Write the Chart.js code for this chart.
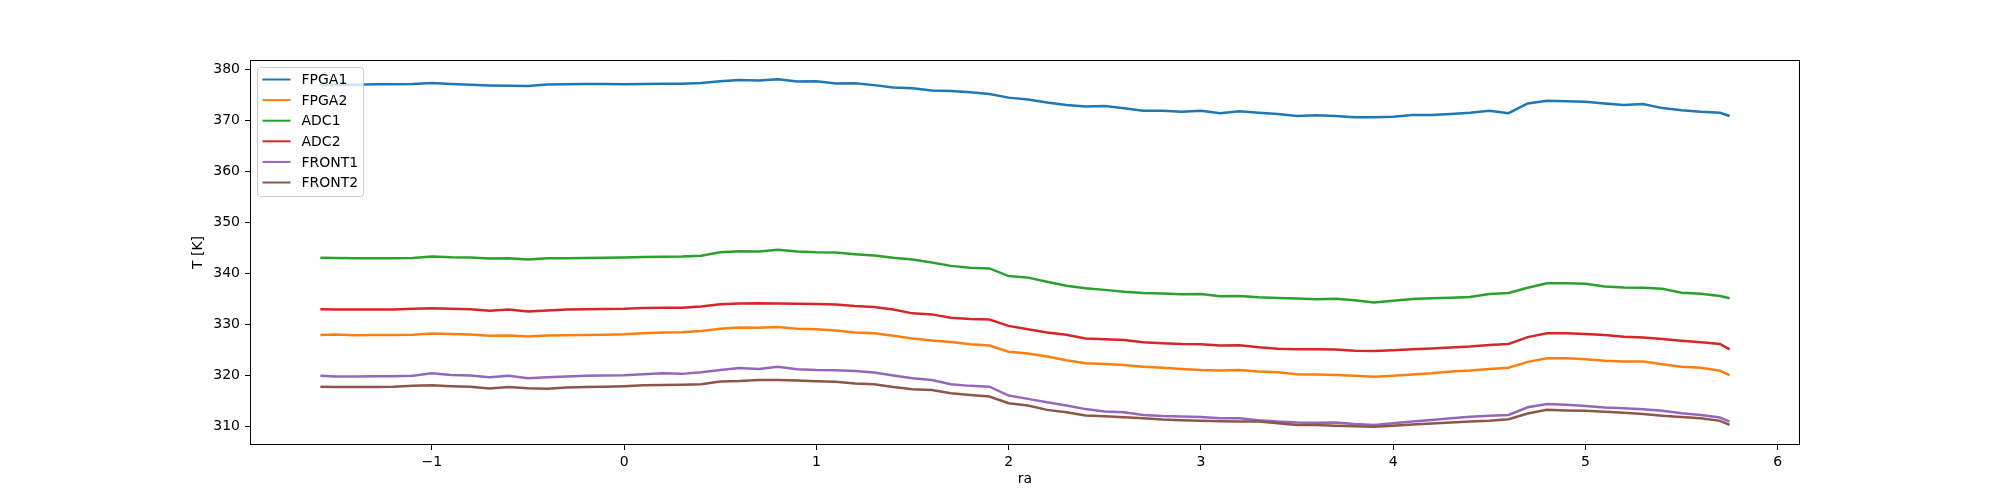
<!DOCTYPE html>
<html>
<head>
<meta charset="utf-8">
<title>T vs ra</title>
<script src="https://cdn.jsdelivr.net/npm/chart.js@4.4.1/dist/chart.umd.min.js"></script>
<style>
  html, body { margin: 0; padding: 0; background: #fff; }
</style>
</head>
<body>
<canvas id="chart" width="2000" height="500"></canvas>
<script>
const RA = [
  -1.58, -1.5, -1.4, -1.3, -1.2, -1.1, -1.0, -0.9, -0.8, -0.7, -0.6, -0.5, -0.4, -0.3, -0.2, -0.1,
  0.0, 0.1, 0.2, 0.3, 0.4, 0.5, 0.6, 0.7, 0.8, 0.9, 1.0, 1.1, 1.2, 1.3, 1.4, 1.5, 1.6, 1.7, 1.8, 1.9,
  2.0, 2.1, 2.2, 2.3, 2.4, 2.5, 2.6, 2.7, 2.8, 2.9, 3.0, 3.1, 3.2, 3.3, 3.4, 3.5, 3.6, 3.7, 3.8, 3.9,
  4.0, 4.1, 4.2, 4.3, 4.4, 4.5, 4.6, 4.7, 4.8, 4.9, 5.0, 5.1, 5.2, 5.3, 5.4, 5.5, 5.6, 5.7, 5.75
];

const FPGA1 = [
  376.9, 376.9, 376.95, 377.05, 377.05, 377.1, 377.3, 377.1, 376.95, 376.85, 376.8, 376.75, 377.0, 377.05, 377.1, 377.1,
  377.05, 377.1, 377.15, 377.15, 377.3, 377.65, 377.9, 377.8, 378.05, 377.6, 377.65, 377.2, 377.25, 376.9, 376.45, 376.3, 375.85, 375.75, 375.5, 375.15,
  374.45, 374.1, 373.5, 373.0, 372.7, 372.8, 372.35, 371.9, 371.9, 371.7, 371.9, 371.4, 371.8, 371.5, 371.25, 370.85, 371.0, 370.85, 370.6, 370.6,
  370.7, 371.05, 371.05, 371.25, 371.5, 371.9, 371.4, 373.3, 373.85, 373.75, 373.65, 373.3, 373.0, 373.2, 372.4, 372.0, 371.7, 371.5, 370.85
];

const FPGA2 = [
  327.95, 328.05, 327.9, 327.95, 327.95, 328.0, 328.25, 328.15, 328.05, 327.8, 327.85, 327.65, 327.85, 327.9, 327.95, 328.0,
  328.1, 328.3, 328.45, 328.5, 328.75, 329.2, 329.45, 329.4, 329.55, 329.2, 329.1, 328.85, 328.45, 328.3, 327.8, 327.3, 326.9, 326.6, 326.15, 325.9,
  324.7, 324.35, 323.75, 323.0, 322.45, 322.3, 322.1, 321.75, 321.55, 321.3, 321.1, 321.0, 321.1, 320.8, 320.65, 320.3, 320.25, 320.15, 320.0, 319.8,
  320.0, 320.25, 320.45, 320.8, 321.0, 321.3, 321.55, 322.7, 323.4, 323.4, 323.2, 322.9, 322.75, 322.75, 322.25, 321.75, 321.55, 320.95, 320.1
];

const ADC1 = [
  343.1, 343.05, 343.0, 343.0, 343.0, 343.05, 343.35, 343.2, 343.15, 342.95, 343.0, 342.75, 343.0, 343.0, 343.05, 343.1,
  343.15, 343.25, 343.3, 343.35, 343.5, 344.15, 344.35, 344.3, 344.65, 344.3, 344.15, 344.1, 343.8, 343.55, 343.1, 342.75, 342.15, 341.5, 341.15, 341.0,
  339.5, 339.2, 338.4, 337.6, 337.1, 336.8, 336.45, 336.2, 336.1, 335.95, 336.0, 335.55, 335.6, 335.35, 335.2, 335.1, 334.95, 335.05, 334.75, 334.35,
  334.65, 335.0, 335.15, 335.25, 335.4, 336.0, 336.2, 337.2, 338.1, 338.1, 338.0, 337.45, 337.25, 337.2, 337.0, 336.25, 336.05, 335.6, 335.15
];

const ADC2 = [
  333.0, 332.95, 332.95, 332.95, 332.95, 333.1, 333.2, 333.1, 333.0, 332.7, 332.95, 332.55, 332.75, 332.95, 333.0, 333.05,
  333.1, 333.25, 333.3, 333.3, 333.55, 334.0, 334.15, 334.2, 334.15, 334.1, 334.05, 333.95, 333.65, 333.45, 332.95, 332.2, 332.0, 331.35, 331.1, 331.0,
  329.75, 329.1, 328.45, 328.0, 327.3, 327.15, 327.0, 326.55, 326.35, 326.2, 326.15, 325.9, 325.95, 325.55, 325.25, 325.15, 325.15, 325.1, 324.9, 324.85,
  325.0, 325.15, 325.3, 325.5, 325.7, 326.0, 326.2, 327.55, 328.3, 328.3, 328.15, 327.95, 327.6, 327.45, 327.2, 326.85, 326.55, 326.2, 325.15
];

const FRONT1 = [
  320.0, 319.85, 319.85, 319.9, 319.9, 320.0, 320.45, 320.15, 320.05, 319.7, 320.0, 319.5, 319.7, 319.85, 320.0, 320.05,
  320.1, 320.3, 320.45, 320.35, 320.65, 321.1, 321.5, 321.3, 321.75, 321.25, 321.1, 321.05, 320.9, 320.6, 320.05, 319.5, 319.15, 318.3, 318.0, 317.85,
  316.1, 315.45, 314.8, 314.15, 313.45, 313.0, 312.85, 312.3, 312.1, 312.0, 311.9, 311.65, 311.65, 311.25, 311.0, 310.85, 310.8, 310.85, 310.55, 310.35,
  310.7, 311.0, 311.3, 311.65, 311.95, 312.15, 312.3, 313.8, 314.45, 314.3, 314.05, 313.75, 313.6, 313.4, 313.15, 312.65, 312.3, 311.8, 311.0
];

const FRONT2 = [
  317.85, 317.8, 317.8, 317.8, 317.85, 318.0, 318.1, 317.95, 317.85, 317.5, 317.8, 317.55, 317.45, 317.7, 317.8, 317.85,
  317.95, 318.1, 318.15, 318.2, 318.3, 318.85, 318.95, 319.15, 319.15, 319.05, 318.9, 318.8, 318.45, 318.3, 317.8, 317.35, 317.2, 316.55, 316.2, 315.9,
  314.6, 314.15, 313.3, 312.85, 312.2, 312.05, 311.85, 311.65, 311.4, 311.25, 311.15, 311.05, 311.0, 311.0, 310.7, 310.35, 310.35, 310.2, 310.1, 310.0,
  310.2, 310.45, 310.65, 310.85, 311.0, 311.15, 311.45, 312.6, 313.3, 313.2, 313.15, 312.95, 312.75, 312.5, 312.15, 311.9, 311.65, 311.15, 310.35
];

const NAMES = ["FPGA1", "FPGA2", "ADC1", "ADC2", "FRONT1", "FRONT2"];
const SERIES = [FPGA1, FPGA2, ADC1, ADC2, FRONT1, FRONT2];
const COLORS = ["#1f77b4", "#ff7f0e", "#2ca02c", "#d62728", "#9467bd", "#8c564b"];

const X_TICKS = [-1, 0, 1, 2, 3, 4, 5, 6];
const Y_TICKS = [310, 320, 330, 340, 350, 360, 370, 380];
const X_MIN = -1.946, X_MAX = 6.116;
const Y_MIN = 306.42, Y_MAX = 381.82;

const FONT = { family: "DejaVu Sans", size: 14 };

function fmt(v) {
  return v < 0 ? "\u2212" + Math.abs(v) : String(v);
}

// axes frame + matplotlib-like legend in the upper left corner
const frameAndLegend = {
  id: "frameAndLegend",
  afterDatasetsDraw(chart) {
    const { ctx, chartArea: a } = chart;
    ctx.save();
    ctx.strokeStyle = "#000";
    ctx.lineWidth = 1;
    ctx.strokeRect(Math.round(a.left) + 0.5, Math.round(a.top) + 0.5,
      Math.round(a.right - a.left) - 1, Math.round(a.bottom - a.top) - 1);

    const x0 = a.left + 7.5, y0 = a.top + 7.5, w = 106, h = 129, row = 20.6;
    ctx.beginPath();
    ctx.roundRect(x0, y0, w, h, 3);
    ctx.fillStyle = "rgba(255,255,255,0.8)";
    ctx.fill();
    ctx.strokeStyle = "#cccccc";
    ctx.stroke();

    ctx.font = FONT.size + "px " + FONT.family;
    ctx.textBaseline = "middle";
    ctx.textAlign = "left";
    chart.data.datasets.forEach((ds, i) => {
      const y = y0 + 12 + i * row;
      ctx.beginPath();
      ctx.moveTo(x0 + 5, y);
      ctx.lineTo(x0 + 33, y);
      ctx.strokeStyle = ds.borderColor;
      ctx.lineWidth = 2;
      ctx.stroke();
      ctx.fillStyle = "#000";
      ctx.fillText(ds.label, x0 + 44, y + 1);
    });
    ctx.restore();
  }
};

const datasets = NAMES.map((name, i) => ({
  label: name,
  data: RA.map((x, k) => ({ x: x, y: SERIES[i][k] })),
  borderColor: COLORS[i],
  backgroundColor: COLORS[i],
  borderWidth: 2.5,
  pointRadius: 0,
  tension: 0,
  fill: false,
  order: NAMES.length - i
}));

new Chart(document.getElementById("chart"), {
  type: "line",
  data: { datasets },
  options: {
    responsive: false,
    animation: false,
    devicePixelRatio: 1,
    layout: { padding: { left: 0, right: 200, top: 60, bottom: 0 } },
    plugins: { legend: { display: false }, tooltip: { enabled: false } },
    scales: {
      x: {
        type: "linear",
        min: X_MIN,
        max: X_MAX,
        afterBuildTicks: s => { s.ticks = X_TICKS.map(v => ({ value: v })); },
        afterFit: s => { s.height = 55; },
        border: { display: false },
        grid: { drawOnChartArea: false, drawTicks: true, tickLength: 5, color: "#000", lineWidth: 1 },
        ticks: { color: "#000", font: FONT, padding: 4, maxRotation: 0, autoSkip: false, callback: v => fmt(v) },
        title: { display: true, text: "ra", color: "#000", font: FONT, padding: { top: 0, bottom: 12 } }
      },
      y: {
        type: "linear",
        min: Y_MIN,
        max: Y_MAX,
        afterBuildTicks: s => { s.ticks = Y_TICKS.map(v => ({ value: v })); },
        afterFit: s => { s.width = 250; },
        border: { display: false },
        grid: { drawOnChartArea: false, drawTicks: true, tickLength: 5, color: "#000", lineWidth: 1 },
        ticks: { color: "#000", font: FONT, padding: 5, callback: v => fmt(v) },
        title: { display: true, text: "T [K]", color: "#000", font: FONT, padding: { top: 190, bottom: 0 } }
      }
    }
  },
  plugins: [frameAndLegend]
});
</script>
</body>
</html>
